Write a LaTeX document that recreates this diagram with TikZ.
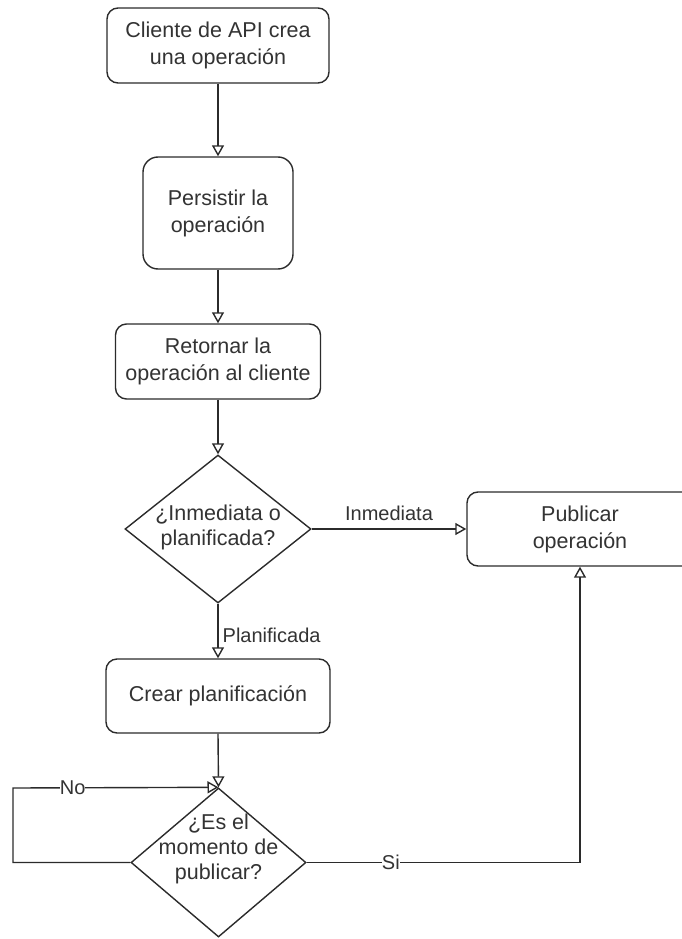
\documentclass[tikz,border=0pt]{standalone}
\usepackage{fontspec}
\setmainfont{Liberation Sans}
\usetikzlibrary{arrows.meta,shapes.geometric}
\definecolor{ln}{HTML}{2B2B2B}
\definecolor{tx}{HTML}{333333}
\tikzset{
  box/.style={draw=ln, line width=1.4pt, rounded corners=11pt, fill=white,
    align=center, text=tx, inner sep=0pt, font=\fontsize{21.5}{27}\selectfont},
  dia/.style={draw=ln, line width=1.4pt, diamond, inner sep=0pt, fill=white},
  dtext/.style={align=center, text=tx, inner sep=0pt, font=\fontsize{21.5}{25}\selectfont},
  arr/.style={draw=ln, line width=1.4pt, -{Triangle[open, length=11pt, width=12pt, line width=1.4pt]}},
  lbl/.style={text=tx, inner sep=1pt, font=\fontsize{20}{24}\selectfont},
}
\begin{document}
\begin{tikzpicture}[x=1pt, y=-1pt]
\useasboundingbox (0,0) rectangle (681,939);
\node[box, minimum width=222pt, minimum height=75pt] (b1) at (218,45.5) {Cliente de API crea\\una operación};
\node[box, minimum width=150pt, minimum height=112pt, rounded corners=15pt] (b2) at (218,213) {Persistir la\\operación};
\node[box, minimum width=205pt, minimum height=75pt] (b3) at (218,361.5) {Retornar la\\operación al cliente};
\node[dia, minimum width=186pt, minimum height=148pt] (d1) at (218,529) {};
\node[dtext] (d1t) at (218,527) {¿Inmediata o\\planificada?};
\node[box, minimum width=226pt, minimum height=74pt] (pub) at (580,529) {Publicar\\operación};
\node[box, minimum width=224pt, minimum height=74pt] (cr) at (218,696) {Crear planificación};
\node[dia, minimum width=175pt, minimum height=149pt] (d2) at (218.5,862.5) {};
\node[dtext] (d2t) at (218.5,849) {¿Es el\\momento de\\publicar?};
\coordinate (loopc) at (13,788);

\draw[arr] (b1.south) -- (b2.north);
\draw[arr] (b2.south) -- (b3.north);
\draw[arr] (b3.south) -- (d1.north);
\draw[arr] (d1.east) -- node[lbl, above=7pt] (limm) {Inmediata} (pub.west);
\draw[arr] (d1.south) -- node[lbl, right=3pt, anchor=west, yshift=-4pt] (lpla) {Planificada} (cr.north);
\draw[arr] (cr.south) -- (d2.north);
\draw[arr] (d2.west) -| (loopc) -- node[lbl, pos=0.29, fill=white, inner sep=0pt] (lno) {No} (d2.north);
\draw[arr] (d2.east) -| node[lbl, pos=0.154, fill=white, inner sep=0pt] (lsi) {Si} (pub.south);
\end{tikzpicture}
\end{document}
